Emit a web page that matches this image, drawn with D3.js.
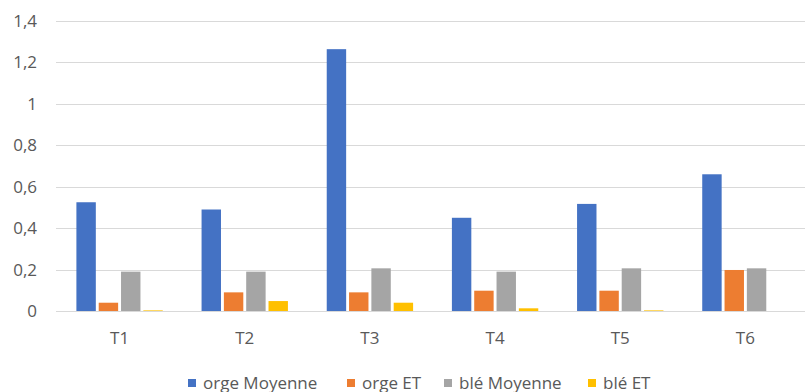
<!DOCTYPE html>
<html>
<head>
<meta charset="utf-8">
<script src="https://cdn.jsdelivr.net/npm/d3@7"></script>
<style>
  html, body { margin: 0; padding: 0; background: #fff; }
  svg { display: block; }
  text { font-family: "Open Sans", "Noto Sans", sans-serif; fill: #595959; }
</style>
</head>
<body>
<svg id="chart" width="805" height="392"></svg>
<script>
// Treatments along the x axis
const categories = ["T1", "T2", "T3", "T4", "T5", "T6"];

// Series: mean and standard deviation for barley (orge) and wheat (blé)
const seriesNames = ["orge Moyenne", "orge ET", "blé Moyenne", "blé ET"];
const orgeMoyenne = [0.525, 0.49, 1.264, 0.45, 0.517, 0.66];
const orgeET      = [0.04, 0.09, 0.09, 0.098, 0.098, 0.198];
const bleMoyenne  = [0.19, 0.19, 0.206, 0.19, 0.206, 0.206];
const bleET       = [0.003, 0.048, 0.04, 0.013, 0.003, 0];

const yTicks = [0, 0.2, 0.4, 0.6, 0.8, 1, 1.2, 1.4];
const colors = ["#4472C4", "#ED7D31", "#A5A5A5", "#FFC000"];

const seriesValues = [orgeMoyenne, orgeET, bleMoyenne, bleET];

const svg = d3.select("#chart");
const plot = { left: 57, right: 808, top: 21, bottom: 311 };
const fontFamily = "'Open Sans', 'Noto Sans', sans-serif";
const fontSize = 17;

const x = d3.scaleBand()
  .domain(categories)
  .range([plot.left, plot.right])
  .paddingInner(0.31)
  .paddingOuter(0.155);

const xSeries = d3.scaleBand()
  .domain(seriesNames)
  .range([0, x.bandwidth()])
  .paddingInner(0.13);

const y = d3.scaleLinear().domain([0, 1.4]).range([plot.bottom, plot.top]);

const frLocale = d3.formatLocale({ decimal: ",", thousands: " ", grouping: [3], currency: ["", " €"] });
const fmt = frLocale.format("~g");

// Horizontal gridlines
svg.append("g")
  .selectAll("line")
  .data(yTicks)
  .join("line")
  .attr("x1", 56)
  .attr("x2", 805)
  .attr("y1", d => Math.round(y(d)) + 0.5)
  .attr("y2", d => Math.round(y(d)) + 0.5)
  .attr("stroke", "#d9d9d9")
  .attr("stroke-width", 1);

// Y axis labels
const yAxis = d3.axisLeft(y).tickValues(yTicks).tickFormat(fmt).tickSize(0).tickPadding(0);
const gy = svg.append("g").attr("transform", "translate(37,0)").call(yAxis);
gy.select(".domain").remove();
gy.selectAll("text")
  .attr("font-size", fontSize)
  .attr("fill", "#595959")
  .style("font-family", fontFamily);

// Bars
const groups = svg.append("g")
  .selectAll("g")
  .data(categories)
  .join("g")
  .attr("transform", d => `translate(${x(d)},0)`);

groups.selectAll("rect")
  .data((c, i) => seriesNames.map((s, k) => ({ s, k, v: seriesValues[k][i] })))
  .join("rect")
  .attr("x", d => xSeries(d.s))
  .attr("width", xSeries.bandwidth())
  .attr("y", d => y(d.v))
  .attr("height", d => y(0) - y(d.v))
  .attr("fill", d => colors[d.k]);

// X axis labels
const xAxis = d3.axisBottom(x).tickSize(0).tickPadding(0);
const gx = svg.append("g").attr("transform", "translate(0,332)").call(xAxis);
gx.select(".domain").remove();
gx.selectAll("text")
  .attr("dy", "0.71em")
  .attr("font-size", fontSize)
  .attr("fill", "#595959")
  .style("font-family", fontFamily);

// Legend
const legendX = [188, 347, 444, 588];
const legend = svg.append("g")
  .selectAll("g")
  .data(seriesNames)
  .join("g")
  .attr("transform", (d, i) => `translate(${legendX[i]},379)`);

legend.append("rect")
  .attr("width", 8)
  .attr("height", 8)
  .attr("fill", (d, i) => colors[i]);

legend.append("text")
  .attr("x", 15)
  .attr("y", 4)
  .attr("dy", "0.35em")
  .attr("font-size", fontSize)
  .text(d => d);
</script>
</body>
</html>
